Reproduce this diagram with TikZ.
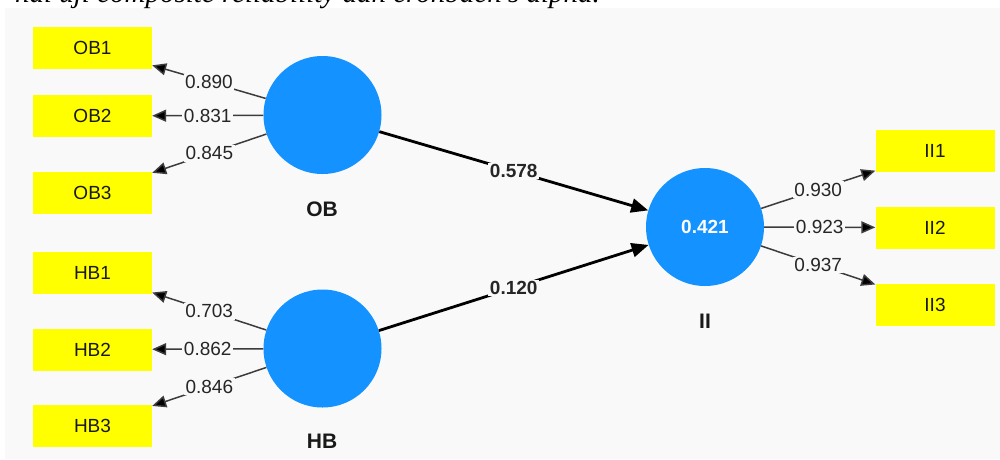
\documentclass[tikz,border=0pt]{standalone}
\usepackage{fontspec}
\setmainfont{Liberation Sans}
\newfontfamily\capfont{Liberation Serif}
\usetikzlibrary{arrows.meta}
\definecolor{panel}{RGB}{249,249,249}
\definecolor{lvblue}{RGB}{20,146,255}
\definecolor{indyel}{RGB}{255,255,0}
\definecolor{loadline}{RGB}{60,60,60}
\tikzset{
  indbox/.style={fill=indyel, minimum width=119pt, minimum height=42pt, inner sep=0pt, font=\fontsize{19}{22}\selectfont, text=black!90},
  latent/.style={circle, fill=lvblue, minimum size=118pt, inner sep=0pt, font=\bfseries\fontsize{19}{22}\selectfont, text=white},
  lvname/.style={font=\bfseries\fontsize{21}{24}\selectfont, text=black!90},
  loadarrow/.style={draw=loadline, line width=1.5pt, -{Triangle[length=14pt,width=12pt,fill=black]}},
  patharrow/.style={draw=black, line width=2.8pt, -{Triangle[length=17pt,width=14pt]}},
  loadlbl/.style={fill=panel, inner sep=1.5pt, font=\fontsize{19}{22}\selectfont, text=black!85, pos=0.5},
  pathlbl/.style={fill=panel, inner sep=1.5pt, font=\bfseries\fontsize{19}{22}\selectfont, text=black!85, pos=0.5}
}
\begin{document}
\begin{tikzpicture}[x=1pt, y=-1pt]
\useasboundingbox (0,0) rectangle (1000,459);
\fill[white] (0,0) rectangle (1000,459);
\fill[panel] (5,8) rectangle (1000,459);
% cropped caption line at the top
\node[anchor=base east, inner sep=0pt, font=\capfont\itshape\fontsize{29}{32}\selectfont] (cap) at (600,2) {nal uji composite reliability dan cronbach's alpha.};
% indicators
\node[indbox] (OB1) at (92.5,48) {OB1};
\node[indbox] (OB2) at (92.5,116) {OB2};
\node[indbox] (OB3) at (92.5,193) {OB3};
\node[indbox] (HB1) at (92.5,273) {HB1};
\node[indbox] (HB2) at (92.5,349.5) {HB2};
\node[indbox] (HB3) at (92.5,426) {HB3};
\node[indbox] (II1) at (935,151) {II1};
\node[indbox] (II2) at (935,227.5) {II2};
\node[indbox] (II3) at (935,304.5) {II3};
% latent variables
\node[latent] (OB) at (322.5,115) {};
\node[latent] (HB) at (322.5,348.5) {};
\node[latent] (II) at (705,227) {0.421};
\node[lvname] (OBn) at (322,209) {OB};
\node[lvname] (HBn) at (322,441) {HB};
\node[lvname] (IIn) at (705,321) {II};
% outer loadings
\draw[loadarrow] (OB) -- node[loadlbl]{0.890} (OB1);
\draw[loadarrow] (OB) -- node[loadlbl]{0.831} (OB2);
\draw[loadarrow] (OB) -- node[loadlbl]{0.845} (OB3);
\draw[loadarrow] (HB) -- node[loadlbl]{0.703} (HB1);
\draw[loadarrow] (HB) -- node[loadlbl]{0.862} (HB2);
\draw[loadarrow] (HB) -- node[loadlbl]{0.846} (HB3);
\draw[loadarrow] (II) -- node[loadlbl]{0.930} (II1);
\draw[loadarrow] (II) -- node[loadlbl]{0.923} (II2);
\draw[loadarrow] (II) -- node[loadlbl]{0.937} (II3);
% path coefficients
\draw[patharrow] (OB) -- node[pathlbl]{0.578} (II);
\draw[patharrow] (HB) -- node[pathlbl]{0.120} (II);
\end{tikzpicture}
\end{document}
